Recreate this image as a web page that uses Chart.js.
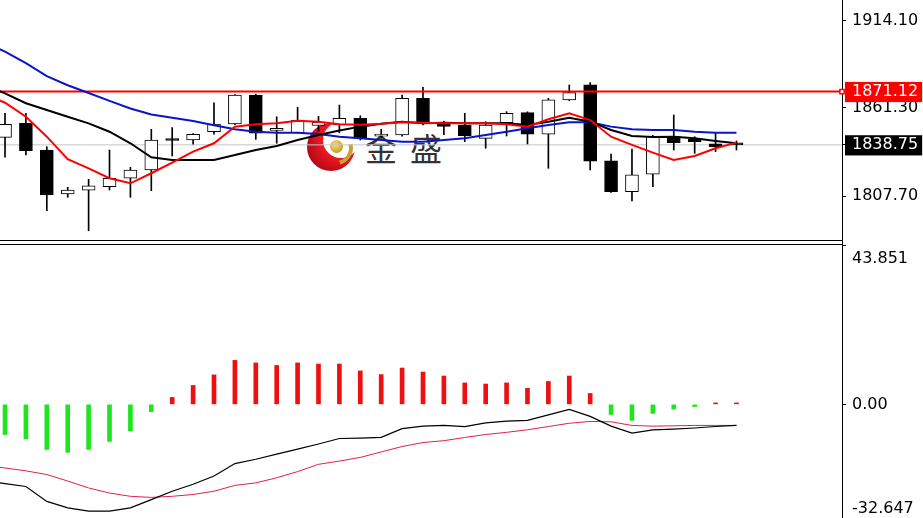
<!DOCTYPE html>
<html>
<head>
<meta charset="utf-8">
<script src="https://cdn.jsdelivr.net/npm/chart.js@4.4.1/dist/chart.umd.min.js"></script>
<style>
  html, body { margin: 0; padding: 0; background: #fff; overflow: hidden; width: 923px; height: 518px; }
  #pricePane { position: absolute; left: 0; top: 0; width: 923px; height: 241px; z-index: 2; }
  #macdPane { position: absolute; left: 0; top: 244px; width: 923px; height: 279px; z-index: 2; }
  .axisGap { position: absolute; left: 842px; top: 240px; width: 1px; height: 5px; background: #000; }
  .logo { position: absolute; left: 307px; top: 123px; width: 48px; height: 48px; z-index: 1; }
  .logo .ring { position: absolute; left: 0; top: 0; width: 48px; height: 48px; border-radius: 50%;
    background: radial-gradient(circle at 70% 35%, #ff3a36 0%, #e0141e 50%, #8a0010 100%); }
  .logo .cut { position: absolute; left: 16px; top: -1px; width: 36px; height: 36px; border-radius: 50%; background: #fff; }
  .logo .ball { position: absolute; left: 23px; top: 17px; width: 13px; height: 13px; border-radius: 50%;
    background: radial-gradient(circle at 40% 35%, #f3dc78 0%, #d0ab3a 60%, #9c7a18 100%); }
  .logo .arc { position: absolute; left: 12px; top: 8px; width: 34px; height: 34px; border-radius: 50%;
    border: 4px solid transparent; border-right-color: #c9a236; box-sizing: border-box; transform: rotate(30deg); }
  .brand { position: absolute; top: 131px; font: 32px/1 "Noto Sans CJK SC", sans-serif; color: #333; z-index: 1; }
</style>
</head>
<body>
<div class="logo"><div class="ring"></div><div class="cut"></div><div class="ball"></div><div class="arc"></div></div>
<div class="brand" style="left:365px">金</div>
<div class="brand" style="left:410px">盛</div>
<div id="pricePane"><canvas id="priceChart"></canvas></div>
<div id="macdPane"><canvas id="macdChart"></canvas></div>
<div class="axisGap"></div>
<script>
// candles, oldest -> newest
const opens  = [1843.3,1851.8,1835.6,1808.9,1811.3,1813.4,1818.5,1823.5,1841.7,1841.7,1846.7,1851.4,1869.0,1847.5,1846.1,1850.5,1850.8,1854.9,1844.0,1844.7,1867.0,1852.0,1850.8,1842.7,1852.2,1858.3,1845.2,1866.0,1875.1,1829.1,1810.3,1820.9,1843.7,1842.3,1839.3,1839.0];
const highs  = [1857.9,1857.9,1837.6,1813.0,1817.8,1835.6,1825.1,1848.2,1849.2,1845.6,1864.3,1869.3,1869.5,1855.8,1861.5,1856.0,1862.9,1856.4,1848.2,1869.0,1873.7,1853.0,1857.9,1852.8,1858.9,1858.8,1867.0,1875.1,1876.5,1833.2,1836.2,1844.5,1856.9,1843.7,1845.8,1841.1];
const lows   = [1831.2,1832.6,1798.8,1806.9,1786.6,1811.3,1806.9,1810.9,1832.0,1839.1,1845.2,1851.0,1842.1,1839.7,1845.8,1847.0,1846.0,1841.7,1842.7,1844.0,1850.8,1845.0,1840.7,1836.7,1844.1,1839.3,1824.5,1865.5,1823.5,1809.8,1804.7,1813.4,1835.6,1833.6,1834.6,1835.6];
const closes = [1851.2,1835.2,1808.3,1811.3,1813.8,1818.5,1823.5,1841.7,1841.4,1845.2,1851.4,1869.0,1845.8,1848.0,1853.8,1852.5,1854.9,1842.7,1845.0,1867.0,1852.2,1850.0,1844.3,1850.8,1857.9,1845.2,1866.0,1870.4,1828.9,1810.3,1820.5,1843.7,1840.1,1840.7,1837.6,1838.75];

// moving averages; first value belongs to the bar just left of the window
const maFast = [1869.5,1864.3,1855.8,1843.7,1830.0,1824.5,1818.5,1815.4,1821.5,1827.9,1834.6,1839.7,1849.8,1851.2,1851.8,1853.4,1852.8,1851.2,1851.0,1851.5,1852.5,1852.2,1851.8,1851.8,1851.8,1851.2,1849.8,1854.3,1857.9,1853.8,1843.7,1838.7,1834.0,1829.6,1832.0,1836.7,1840.1];
const maMid  = [1875.0,1870.0,1864.0,1859.9,1855.8,1851.8,1846.7,1839.7,1831.2,1829.6,1829.6,1829.6,1832.6,1835.6,1838.1,1841.7,1844.7,1847.5,1849.8,1851.5,1852.8,1851.8,1852.2,1851.8,1851.8,1851.8,1850.8,1852.8,1855.2,1852.8,1847.8,1844.1,1843.5,1843.7,1842.7,1841.1,1839.7];
const maSlow = [1901.0,1895.3,1888.4,1880.5,1874.9,1870.2,1865.4,1860.8,1857.2,1855.2,1853.2,1850.7,1848.2,1846.7,1846.1,1846.1,1845.3,1843.7,1842.7,1841.7,1840.7,1840.7,1841.7,1842.7,1844.7,1846.7,1848.8,1850.8,1852.4,1852.4,1849.8,1848.2,1847.8,1847.8,1846.7,1846.1,1846.1];

const levelLine = 1871.12;
const lastPrice = 1838.75;
const priceTicks = [1807.70, 1838.75, 1861.30, 1871.12, 1914.10];
const priceMin = 1780.39, priceMax = 1926.66;

// MACD pane
const macdHist   = [-8.3,-9.5,-12.4,-13.2,-12.4,-10.2,-7.3,-2.0,1.9,5.2,8.1,12.1,11.4,10.7,11.4,11.1,11.1,9.2,8.2,10.0,8.9,7.8,5.9,5.6,5.9,4.4,6.3,7.8,3.0,-2.8,-4.4,-2.5,-1.3,-0.6,0.4,0.4];
const macdMain   = [-21.0,-21.8,-22.6,-26.7,-28.5,-29.4,-29.4,-28.5,-26.2,-23.9,-22.0,-19.7,-16.3,-15.1,-13.7,-12.3,-10.9,-9.4,-9.3,-9.1,-6.7,-6.0,-5.8,-6.1,-5.1,-4.6,-4.4,-2.9,-1.4,-3.3,-6.0,-7.9,-7.0,-6.8,-6.5,-6.1,-5.8];
const macdSignal = [-16.8,-17.5,-18.3,-19.3,-21.1,-23.0,-24.4,-25.3,-25.6,-25.3,-24.8,-23.9,-22.3,-21.6,-20.2,-18.5,-16.5,-15.6,-14.6,-13.1,-11.6,-10.5,-10.0,-9.1,-8.3,-7.7,-7.0,-6.1,-5.2,-4.7,-4.8,-5.8,-6.0,-5.9,-5.8,-5.8,-5.8];
const macdTicks = [-32.647, 0, 43.851];

const barX  = closes.map((_, i) => i);
const lineX = [-1].concat(barX);
const X_MIN = -0.24, X_MAX = 40.05;

const FONT = 'DejaVu Sans';
const RIGHT_AXIS_W = 81;

function pts(xs, ys) {
    return ys.map(function(y, i) { return { x: xs[i], y: y }; });
}

// black frame line on the pane edge next to the other pane
const paneEdge = {
    id: 'paneEdge',
    afterDraw: function(chart, args, opts) {
        var ctx = chart.ctx, area = chart.chartArea;
        var y = (opts.edge === 'bottom' ? area.bottom : area.top) - 0.5;
        ctx.save();
        ctx.strokeStyle = '#000';
        ctx.lineWidth = 1;
        ctx.beginPath();
        ctx.moveTo(0, y);
        ctx.lineTo(area.right, y);
        ctx.stroke();
        ctx.restore();
    }
};

var tags = {};
tags[levelLine.toFixed(2)] = { bg: '#ff0000', fg: '#ffffff' };
tags[lastPrice.toFixed(2)] = { bg: '#000000', fg: '#ffffff' };
function tagFor(ctx) {
    return ctx.tick ? tags[ctx.tick.value.toFixed(2)] : null;
}

function xScale() {
    return { type: 'linear', min: X_MIN, max: X_MAX, display: false, offset: false };
}

// fixed axis width, and no extra room for labels above/below the pane
function fitRightAxis(s) {
    s.width = RIGHT_AXIS_W;
    s.paddingTop = 0;
    s.paddingBottom = 0;
}

// Price pane
new Chart(document.getElementById('priceChart'), {
    type: 'bar',
    data: {
        datasets: [
            {
                type: 'line', data: pts(lineX, maFast), borderColor: '#ff0000', borderWidth: 2,
                pointRadius: 0, order: 0
            },
            {
                type: 'line', data: pts(lineX, maMid), borderColor: '#000000', borderWidth: 2,
                pointRadius: 0, order: 0
            },
            {
                type: 'line', data: pts(lineX, maSlow), borderColor: '#0a14c8', borderWidth: 2,
                pointRadius: 0, order: 0
            },
            {
                type: 'line', data: [{ x: X_MIN, y: levelLine }, { x: X_MAX, y: levelLine }],
                borderColor: '#ff0000', borderWidth: 2, order: 0, clip: false,
                pointRadius: [0, 3], pointStyle: 'rect', pointBackgroundColor: '#ffffff',
                pointBorderColor: '#ff0000', pointBorderWidth: 1.5
            },
            {
                type: 'line', data: [{ x: X_MIN, y: lastPrice }, { x: X_MAX, y: lastPrice }],
                borderColor: '#c4c4c4', borderWidth: 1, pointRadius: 0, order: 5
            },
            {
                // candle bodies
                data: barX.map(function(i) { return { x: i, y: [opens[i], closes[i]] }; }),
                backgroundColor: barX.map(function(i) { return closes[i] >= opens[i] ? '#ffffff' : '#000000'; }),
                borderColor: '#000000', borderWidth: 1, borderSkipped: false,
                barThickness: 13, minBarLength: 2, grouped: false, order: 1
            },
            {
                // wicks
                data: barX.map(function(i) { return { x: i, y: [lows[i], highs[i]] }; }),
                backgroundColor: '#000000', borderWidth: 0,
                barThickness: 1, grouped: false, order: 2
            }
        ]
    },
    options: {
        responsive: true,
        maintainAspectRatio: false,
        animation: false,
        devicePixelRatio: 1,
        layout: { padding: 0, autoPadding: false },
        elements: { line: { tension: 0 } },
        plugins: { legend: { display: false }, tooltip: { enabled: false }, paneEdge: { edge: 'bottom' } },
        scales: {
            x: xScale(),
            y: {
                position: 'right', min: priceMin, max: priceMax,
                afterFit: fitRightAxis,
                afterBuildTicks: function(s) { s.ticks = priceTicks.map(function(v) { return { value: v }; }); },
                grid: { drawOnChartArea: false, tickLength: 4, tickColor: '#000' },
                border: { color: '#000', width: 1 },
                ticks: {
                    autoSkip: false, padding: 6,
                    font: { family: FONT, size: 16 },
                    color: function(ctx) { var t = tagFor(ctx); return t ? t.fg : '#000'; },
                    showLabelBackdrop: function(ctx) { return !!tagFor(ctx); },
                    backdropColor: function(ctx) { var t = tagFor(ctx); return t ? t.bg : 'rgba(0,0,0,0)'; },
                    backdropPadding: { left: 7, right: 4, top: 0, bottom: 1 },
                    callback: function(v) { return Number(v).toFixed(2); }
                }
            }
        }
    },
    plugins: [paneEdge]
});

// MACD pane
new Chart(document.getElementById('macdChart'), {
    type: 'bar',
    data: {
        datasets: [
            {
                type: 'line', data: pts(lineX, macdMain), borderColor: '#000000', borderWidth: 1.2,
                pointRadius: 0, order: 0
            },
            {
                type: 'line', data: pts(lineX, macdSignal), borderColor: '#e0204a', borderWidth: 1,
                pointRadius: 0, order: 1
            },
            {
                data: pts(barX, macdHist),
                backgroundColor: macdHist.map(function(v) { return v >= 0 ? '#ee1010' : '#1ee61e'; }),
                barThickness: 4, grouped: false, order: 2
            }
        ]
    },
    options: {
        responsive: true,
        maintainAspectRatio: false,
        animation: false,
        devicePixelRatio: 1,
        layout: { padding: { top: 1, left: 0, right: 0, bottom: 0 }, autoPadding: false },
        elements: { line: { tension: 0 } },
        plugins: { legend: { display: false }, tooltip: { enabled: false }, paneEdge: { edge: 'top' } },
        scales: {
            x: xScale(),
            y: {
                position: 'right', min: macdTicks[0], max: macdTicks[2],
                afterFit: fitRightAxis,
                afterBuildTicks: function(s) { s.ticks = macdTicks.map(function(v) { return { value: v }; }); },
                grid: { drawOnChartArea: false, tickLength: 4, tickColor: '#000' },
                border: { color: '#000', width: 1 },
                ticks: {
                    autoSkip: false, padding: 6, color: '#000',
                    // end labels sit inside the pane, as in the terminal
                    font: function(ctx) {
                        var edge = ctx.tick && ctx.tick.value !== 0;
                        return { family: FONT, size: 16, lineHeight: edge ? 1.75 : 1.2 };
                    },
                    callback: function(v) {
                        if (v === 0) return '0.00';
                        if (v > 0) return ['', String(v)];
                        return [String(v), ''];
                    }
                }
            }
        }
    },
    plugins: [paneEdge]
});
</script>
</body>
</html>
